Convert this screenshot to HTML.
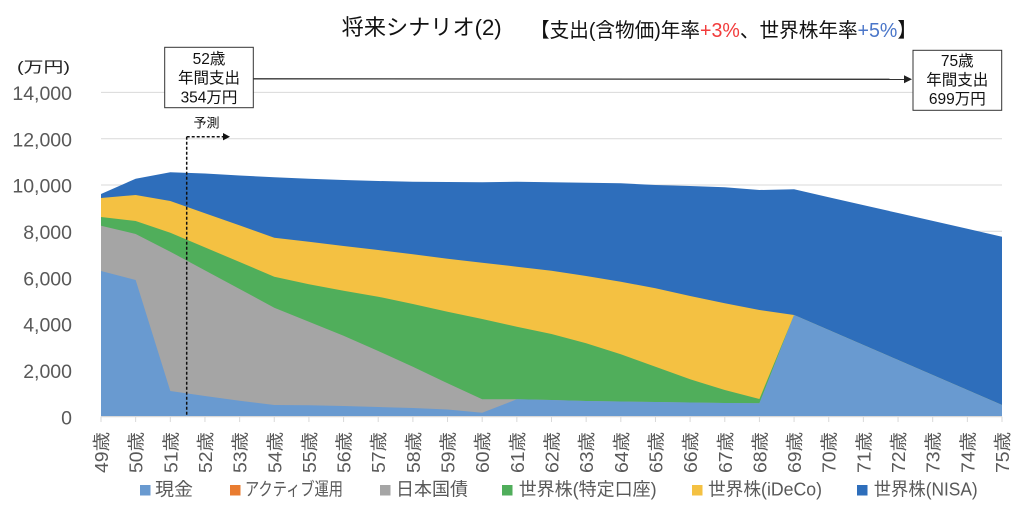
<!DOCTYPE html>
<html><head><meta charset="utf-8"><style>
html,body{margin:0;padding:0;background:#fff;}
svg{display:block;}
text{font-family:"Liberation Sans","Noto Sans CJK JP",sans-serif;}
</style></head><body>
<svg width="1024" height="507" viewBox="0 0 1024 507" xmlns="http://www.w3.org/2000/svg">
<rect width="1024" height="507" fill="#fff"/>
<!-- gridlines -->
<g stroke="#D9D9D9" stroke-width="1">
<line x1="101" x2="1002" y1="92.4" y2="92.4"/>
<line x1="101" x2="1002" y1="138.7" y2="138.7"/>
<line x1="101" x2="1002" y1="185" y2="185"/>
<line x1="101" x2="1002" y1="231.3" y2="231.3"/>
<line x1="101" x2="1002" y1="277.6" y2="277.6"/>
<line x1="101" x2="1002" y1="323.9" y2="323.9"/>
<line x1="101" x2="1002" y1="370.3" y2="370.3"/>
</g>
<!-- areas -->
<polygon fill="#2E6EBB" points="101,194 135.65,178.7 170.31,172.3 204.96,173.5 239.62,175.5 274.27,177.3 308.92,178.7 343.58,180 378.23,181 412.89,181.7 447.54,182 482.19,182.3 516.85,181.7 551.5,182.3 586.15,182.7 620.81,183.3 655.46,185 690.12,186 724.77,187.3 759.42,190 794.08,189.3 828.73,197.2 863.38,205.1 898.04,213 932.69,220.9 967.35,228.8 1002,236.7 1002,416.6 101,416.6"/>
<polygon fill="#F4C142" points="101,198 135.65,195 170.31,201 204.96,213.2 239.62,225.4 274.27,237.7 308.92,241.7 343.58,246 378.23,250 412.89,254.3 447.54,258.7 482.19,262.7 516.85,266.7 551.5,270.7 586.15,276 620.81,281.7 655.46,288.3 690.12,296 724.77,303.3 759.42,310 794.08,315 828.73,330 863.38,345 898.04,360 932.69,375 967.35,390 1002,405 1002,416.6 101,416.6"/>
<polygon fill="#50AE5B" points="101,217 135.65,221 170.31,232.7 204.96,247.4 239.62,262 274.27,276.7 308.92,284.3 343.58,290.7 378.23,296.7 412.89,304 447.54,311.7 482.19,319 516.85,326.7 551.5,334 586.15,343.3 620.81,354.3 655.46,366.7 690.12,379.3 724.77,390 759.42,399 794.08,315 828.73,330 863.38,345 898.04,360 932.69,375 967.35,390 1002,405 1002,416.6 101,416.6"/>
<polygon fill="#A5A5A5" points="101,225.7 135.65,234 170.31,251.7 204.96,270.4 239.62,289 274.27,307.7 308.92,321.7 343.58,335.7 378.23,351 412.89,366.7 447.54,383.3 482.19,399.3 516.85,399.3 551.5,400 586.15,401 620.81,401.5 655.46,402 690.12,402.5 724.77,403 759.42,403.3 794.08,315 828.73,330 863.38,345 898.04,360 932.69,375 967.35,390 1002,405 1002,416.6 101,416.6"/>
<polygon fill="#699AD0" points="101,271 135.65,280 170.31,391 204.96,396 239.62,400.7 274.27,405 308.92,405.3 343.58,406 378.23,407 412.89,408 447.54,409.5 482.19,412.7 516.85,399.3 551.5,400 586.15,401 620.81,401.5 655.46,402 690.12,402.5 724.77,403 759.42,403.3 794.08,315 828.73,330 863.38,345 898.04,360 932.69,375 967.35,390 1002,405 1002,416.6 101,416.6"/>
<!-- axis -->
<line x1="101" x2="1002" y1="416.6" y2="416.6" stroke="#D9D9D9" stroke-width="1.2"/>
<g stroke="#D9D9D9" stroke-width="1">
<line x1="101" x2="101" y1="416.6" y2="422"/><line x1="135.65" x2="135.65" y1="416.6" y2="422"/><line x1="170.31" x2="170.31" y1="416.6" y2="422"/><line x1="204.96" x2="204.96" y1="416.6" y2="422"/><line x1="239.62" x2="239.62" y1="416.6" y2="422"/><line x1="274.27" x2="274.27" y1="416.6" y2="422"/><line x1="308.92" x2="308.92" y1="416.6" y2="422"/><line x1="343.58" x2="343.58" y1="416.6" y2="422"/><line x1="378.23" x2="378.23" y1="416.6" y2="422"/><line x1="412.89" x2="412.89" y1="416.6" y2="422"/><line x1="447.54" x2="447.54" y1="416.6" y2="422"/><line x1="482.19" x2="482.19" y1="416.6" y2="422"/><line x1="516.85" x2="516.85" y1="416.6" y2="422"/><line x1="551.5" x2="551.5" y1="416.6" y2="422"/><line x1="586.15" x2="586.15" y1="416.6" y2="422"/><line x1="620.81" x2="620.81" y1="416.6" y2="422"/><line x1="655.46" x2="655.46" y1="416.6" y2="422"/><line x1="690.12" x2="690.12" y1="416.6" y2="422"/><line x1="724.77" x2="724.77" y1="416.6" y2="422"/><line x1="759.42" x2="759.42" y1="416.6" y2="422"/><line x1="794.08" x2="794.08" y1="416.6" y2="422"/><line x1="828.73" x2="828.73" y1="416.6" y2="422"/><line x1="863.38" x2="863.38" y1="416.6" y2="422"/><line x1="898.04" x2="898.04" y1="416.6" y2="422"/><line x1="932.69" x2="932.69" y1="416.6" y2="422"/><line x1="967.35" x2="967.35" y1="416.6" y2="422"/><line x1="1002" x2="1002" y1="416.6" y2="422"/>
</g>
<!-- y labels -->
<g fill="#595959" font-size="19.5" text-anchor="end">
<text x="72" y="100">14,000</text>
<text x="72" y="146.4">12,000</text>
<text x="72" y="192.7">10,000</text>
<text x="72" y="239">8,000</text>
<text x="72" y="285.3">6,000</text>
<text x="72" y="331.6">4,000</text>
<text x="72" y="378">2,000</text>
<text x="72" y="424.3">0</text>
</g>
<text x="17" y="72" font-size="15" fill="#222" textLength="53" lengthAdjust="spacingAndGlyphs">(万円)</text>
<!-- x labels -->
<g fill="#595959" font-size="18" text-anchor="end">
<text transform="translate(108,432) rotate(-90)" textLength="41" lengthAdjust="spacingAndGlyphs">49歳</text>
<text transform="translate(142.65,432) rotate(-90)" textLength="41" lengthAdjust="spacingAndGlyphs">50歳</text>
<text transform="translate(177.31,432) rotate(-90)" textLength="41" lengthAdjust="spacingAndGlyphs">51歳</text>
<text transform="translate(211.96,432) rotate(-90)" textLength="41" lengthAdjust="spacingAndGlyphs">52歳</text>
<text transform="translate(246.62,432) rotate(-90)" textLength="41" lengthAdjust="spacingAndGlyphs">53歳</text>
<text transform="translate(281.27,432) rotate(-90)" textLength="41" lengthAdjust="spacingAndGlyphs">54歳</text>
<text transform="translate(315.92,432) rotate(-90)" textLength="41" lengthAdjust="spacingAndGlyphs">55歳</text>
<text transform="translate(350.58,432) rotate(-90)" textLength="41" lengthAdjust="spacingAndGlyphs">56歳</text>
<text transform="translate(385.23,432) rotate(-90)" textLength="41" lengthAdjust="spacingAndGlyphs">57歳</text>
<text transform="translate(419.89,432) rotate(-90)" textLength="41" lengthAdjust="spacingAndGlyphs">58歳</text>
<text transform="translate(454.54,432) rotate(-90)" textLength="41" lengthAdjust="spacingAndGlyphs">59歳</text>
<text transform="translate(489.19,432) rotate(-90)" textLength="41" lengthAdjust="spacingAndGlyphs">60歳</text>
<text transform="translate(523.85,432) rotate(-90)" textLength="41" lengthAdjust="spacingAndGlyphs">61歳</text>
<text transform="translate(558.5,432) rotate(-90)" textLength="41" lengthAdjust="spacingAndGlyphs">62歳</text>
<text transform="translate(593.15,432) rotate(-90)" textLength="41" lengthAdjust="spacingAndGlyphs">63歳</text>
<text transform="translate(627.81,432) rotate(-90)" textLength="41" lengthAdjust="spacingAndGlyphs">64歳</text>
<text transform="translate(662.46,432) rotate(-90)" textLength="41" lengthAdjust="spacingAndGlyphs">65歳</text>
<text transform="translate(697.12,432) rotate(-90)" textLength="41" lengthAdjust="spacingAndGlyphs">66歳</text>
<text transform="translate(731.77,432) rotate(-90)" textLength="41" lengthAdjust="spacingAndGlyphs">67歳</text>
<text transform="translate(766.42,432) rotate(-90)" textLength="41" lengthAdjust="spacingAndGlyphs">68歳</text>
<text transform="translate(801.08,432) rotate(-90)" textLength="41" lengthAdjust="spacingAndGlyphs">69歳</text>
<text transform="translate(835.73,432) rotate(-90)" textLength="41" lengthAdjust="spacingAndGlyphs">70歳</text>
<text transform="translate(870.38,432) rotate(-90)" textLength="41" lengthAdjust="spacingAndGlyphs">71歳</text>
<text transform="translate(905.04,432) rotate(-90)" textLength="41" lengthAdjust="spacingAndGlyphs">72歳</text>
<text transform="translate(939.69,432) rotate(-90)" textLength="41" lengthAdjust="spacingAndGlyphs">73歳</text>
<text transform="translate(974.35,432) rotate(-90)" textLength="41" lengthAdjust="spacingAndGlyphs">74歳</text>
<text transform="translate(1009,432) rotate(-90)" textLength="41" lengthAdjust="spacingAndGlyphs">75歳</text>
</g>
<!-- title -->
<text x="341.7" y="35" font-size="22" fill="#111" textLength="160" lengthAdjust="spacingAndGlyphs">将来シナリオ(2)</text>
<text x="530" y="37" font-size="20" fill="#111" textLength="387" lengthAdjust="spacingAndGlyphs">【支出(含物価)年率<tspan fill="#F23B3B">+3%</tspan>、世界株年率<tspan fill="#4A76C9">+5%</tspan>】</text>
<!-- arrow between boxes -->
<line x1="253" y1="78.8" x2="904" y2="79.3" stroke="#333" stroke-width="1.3"/>
<polygon points="904,75.3 912,79.3 904,83.3" fill="#222"/>
<!-- box 1 -->
<rect x="164.7" y="47.3" width="88.6" height="60.4" fill="#fff" stroke="#333" stroke-width="1"/>
<g font-size="15.5" fill="#111" text-anchor="middle">
<text x="209" y="64">52歳</text>
<text x="209" y="83">年間支出</text>
<text x="209" y="102.5">354万円</text>
</g>
<!-- box 2 -->
<rect x="913" y="50.3" width="88.7" height="60" fill="#fff" stroke="#333" stroke-width="1"/>
<g font-size="15.5" fill="#111" text-anchor="middle">
<text x="957.3" y="66">75歳</text>
<text x="957.3" y="85">年間支出</text>
<text x="957.3" y="104">699万円</text>
</g>
<!-- forecast marker -->
<text x="206.5" y="127.5" font-size="13" fill="#111" text-anchor="middle">予測</text>
<line x1="186.7" y1="136.7" x2="186.7" y2="416.6" stroke="#111" stroke-width="1.5" stroke-dasharray="3,2"/>
<line x1="186.7" y1="136.7" x2="224" y2="136.7" stroke="#111" stroke-width="1.5" stroke-dasharray="3,2"/>
<polygon points="223,133 230,136.7 223,140.4" fill="#111"/>
<!-- legend -->
<rect x="140" y="485" width="10.5" height="10.5" fill="#699AD0"/>
<text x="155" y="495.5" font-size="18" fill="#595959" textLength="38" lengthAdjust="spacingAndGlyphs">現金</text>
<rect x="230" y="485" width="10.5" height="10.5" fill="#E97C30"/>
<text x="245" y="495.5" font-size="18" fill="#595959" textLength="98" lengthAdjust="spacingAndGlyphs">アクティブ運用</text>
<rect x="380" y="485" width="10.5" height="10.5" fill="#A5A5A5"/>
<text x="396" y="495.5" font-size="18" fill="#595959" textLength="72" lengthAdjust="spacingAndGlyphs">日本国債</text>
<rect x="502" y="485" width="10.5" height="10.5" fill="#50AE5B"/>
<text x="518.7" y="495.5" font-size="18" fill="#595959" textLength="138" lengthAdjust="spacingAndGlyphs">世界株(特定口座)</text>
<rect x="692" y="485" width="10.5" height="10.5" fill="#F4C142"/>
<text x="708" y="495.5" font-size="18" fill="#595959" textLength="114" lengthAdjust="spacingAndGlyphs">世界株(iDeCo)</text>
<rect x="857" y="485" width="10.5" height="10.5" fill="#2E6EBB"/>
<text x="873.7" y="495.5" font-size="18" fill="#595959" textLength="104" lengthAdjust="spacingAndGlyphs">世界株(NISA)</text>
</svg>
</body></html>
